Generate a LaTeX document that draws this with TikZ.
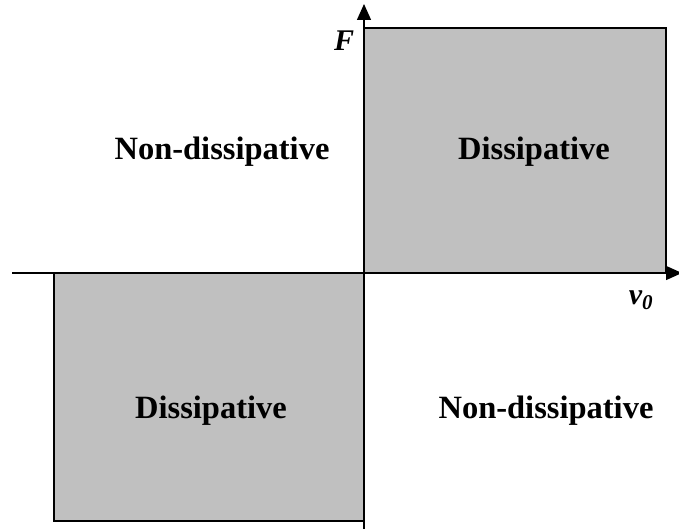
\documentclass[tikz,border=0pt]{standalone}
\usepackage{fontspec}
\setmainfont{Liberation Serif}
\usetikzlibrary{arrows.meta}
\begin{document}
\begin{tikzpicture}[x=1pt,y=-1pt,
  quad/.style={fill={rgb,255:red,192;green,192;blue,192},draw=black,line width=1.6pt},
  axis/.style={line width=1.4pt,-{Triangle[length=16pt,width=14pt]}},
  region/.style={font=\fontsize{32.5}{38}\selectfont\bfseries},
  axlabel/.style={font=\fontsize{30}{34}\selectfont\bfseries\itshape}]
\useasboundingbox (0,0) rectangle (679,529);
\draw[quad] (364,28) rectangle (666,273);
\draw[quad] (54,273) rectangle (364,521);
\coordinate (xs) at (12,273);
\coordinate (xe) at (682,273);
\coordinate (ys) at (364,529);
\coordinate (ye) at (364,4);
\draw[axis] (xs) -- (xe);
\draw[axis] (ys) -- (ye);
\node[region] (nd1) at (222,152) {Non-dissipative};
\node[region] (d1) at (534,152) {Dissipative};
\node[region] (d2) at (211,411) {Dissipative};
\node[region] (nd2) at (546,411) {Non-dissipative};
\node[axlabel] (F) at (344,41) {F};
\node[axlabel] (v) at (641,300) {v\textsubscript{0}};
\end{tikzpicture}
\end{document}
